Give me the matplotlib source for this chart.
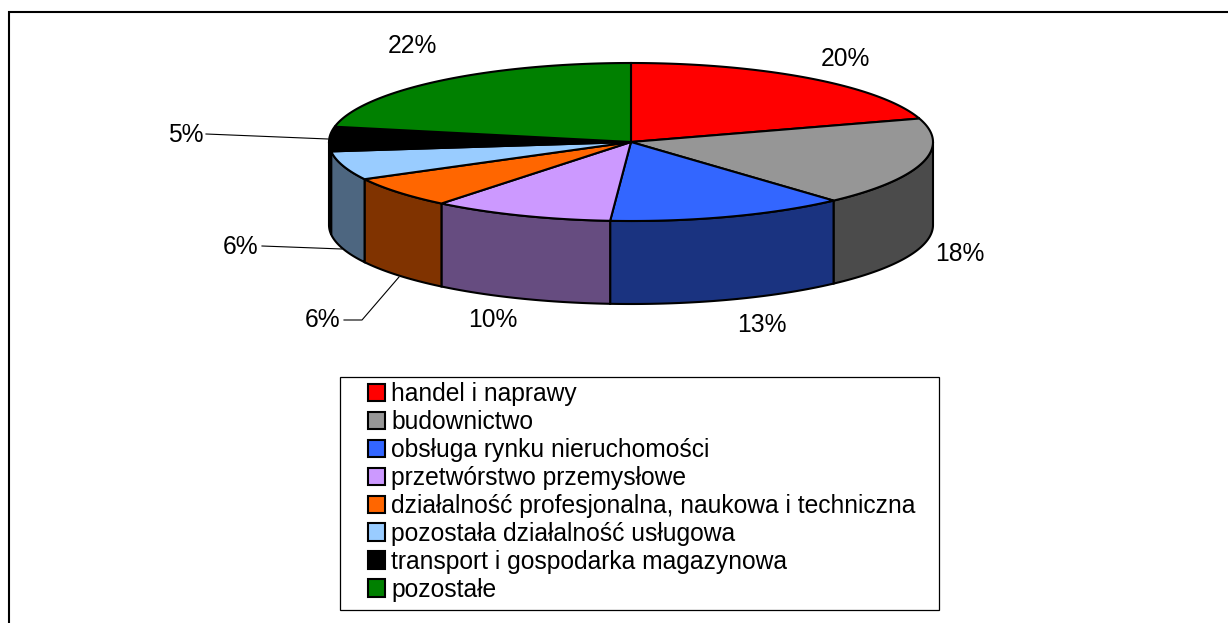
import numpy as np
import matplotlib
matplotlib.use('Agg')
import matplotlib.pyplot as plt
from matplotlib.patches import Patch, Polygon, Rectangle

plt.rcParams['font.family'] = ['Liberation Sans', 'DejaVu Sans']

# dane wykresu
categories = ['handel i naprawy', 'budownictwo', 'obsługa rynku nieruchomości',
              'przetwórstwo przemysłowe', 'działalność profesjonalna, naukowa i techniczna',
              'pozostała działalność usługowa', 'transport i gospodarka magazynowa', 'pozostałe']
values = [20.2, 18.1, 12.8, 9.7, 6.4, 5.9, 5.0, 21.9]
top_colors = ['#ff0000', '#969696', '#3366ff', '#cc99ff', '#ff6600', '#99ccff', '#000000', '#008000']
side_colors = ['#800000', '#4b4b4b', '#1a3380', '#664c80', '#803300', '#4d6680', '#000000', '#004000']

# uklad w pikselach obrazka
cx, cy, rx, ry, depth = 631, 142, 302, 79, 83
label_xy = [(845, 59), (960, 254), (762, 325), (493, 320), (323, 320), (241, 247), (186, 135), (412, 46)]
leaders = [[(206, 134), (328, 139)], [(262, 246), (342, 249)], [(344, 320), (362, 320), (399, 277)]]

fig = plt.figure(figsize=(12.28, 6.23), dpi=100)
ax = fig.add_axes([0, 0, 1, 1])
ax.set_xlim(0, 1228)
ax.set_ylim(623, 0)
ax.axis('off')


def rim(a, b, dy=0):
    t = np.radians(np.linspace(a, b, max(int(abs(b - a)) * 2, 2)))
    return np.column_stack([cx + rx * np.sin(t), cy - ry * np.cos(t) + dy])


# ramka (tylko gora i lewa strona)
ax.plot([9, 9, 1228], [623, 12, 12], color='black', lw=1.5, solid_joinstyle='miter')

edges = np.cumsum([0] + values) * 3.6

# sciany boczne
for i in range(len(values)):
    a, b = max(edges[i], 90), min(edges[i + 1], 270)
    if a < b:
        pts = np.vstack([rim(a, b), rim(a, b, depth)[::-1]])
        ax.add_patch(Polygon(pts, facecolor=side_colors[i], edgecolor='black', lw=1.5, zorder=2))

# wierzch
for i in range(len(values)):
    pts = np.vstack([[(cx, cy)], rim(edges[i], edges[i + 1])])
    ax.add_patch(Polygon(pts, facecolor=top_colors[i], edgecolor='black', lw=1.5, zorder=3))

for v, (x, y) in zip(values, label_xy):
    ax.text(x, y, f'{v:.0f}%', fontsize=17.7, ha='center', va='center', color='black')

for line in leaders:
    xs, ys = zip(*line)
    ax.plot(xs, ys, color='black', lw=0.8, zorder=1)

# legenda
ax.add_patch(Rectangle((340, 377), 599, 233, facecolor='white', edgecolor='black', lw=0.9))
handles = [Patch(facecolor=c, edgecolor='black', lw=1.5) for c in top_colors]
ax.legend(handles, categories, loc='upper left', bbox_to_anchor=(368 / 1228, 1 - 382 / 623),
          bbox_transform=fig.transFigure, frameon=False, fontsize=17.7, borderpad=0, borderaxespad=0,
          handlelength=0.7, handleheight=0.7, handletextpad=0.24, labelspacing=0.16)

fig.savefig('out.png', dpi=100, facecolor='white')
